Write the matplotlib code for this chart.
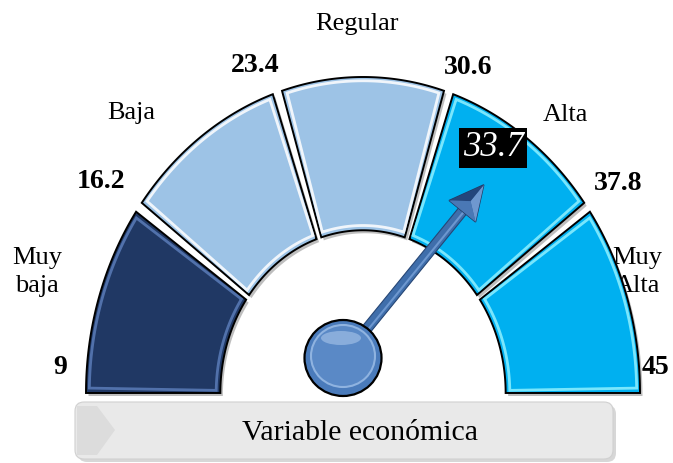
import numpy as np
import matplotlib
matplotlib.use("Agg")
import matplotlib.pyplot as plt
from matplotlib.patches import Polygon, Ellipse, FancyBboxPatch

# ---- data ----
bounds = [9, 16.2, 23.4, 30.6, 37.8, 45]
categories = ["Muy\nbaja", "Baja", "Regular", "Alta", "Muy\nAlta"]
bound_labels = ["9", "16.2", "23.4", "30.6", "37.8", "45"]
value = 33.7
value_label = "33.7"
title = "Variable económica"

# ---- style ----
seg_colors = ["#203864", "#9dc3e6", "#9dc3e6", "#00b0f0", "#00b0f0"]
bevel_colors = ["#5a7cb8", "#ffffff", "#ffffff", "#8ff0ff", "#8ff0ff"]
FONT = "Liberation Serif"

W, H = 673, 463
fig = plt.figure(figsize=(W / 100, H / 100), dpi=100)
ax = fig.add_axes([0, 0, 1, 1])
ax.set_xlim(0, W)
ax.set_ylim(H, 0)
ax.axis("off")

cx, cy = 363, 393
rx, ry = 277, 316
inner = 0.515
vmin, vmax = bounds[0], bounds[-1]


def ang(v):
    return np.pi - (v - vmin) / (vmax - vmin) * np.pi


def pt(a, r):
    return cx + rx * r * np.cos(a), cy - ry * r * np.sin(a)


def wedge_pts(a1, a2, r_out, r_in, n=80):
    t = np.linspace(a1, a2, n)
    xo, yo = pt(t, r_out)
    xi, yi = pt(t[::-1], r_in)
    return np.column_stack([np.r_[xo, xi], np.r_[yo, yi]])


gap = np.deg2rad(1.0)
for i in range(len(bounds) - 1):
    a1 = ang(bounds[i])
    a2 = ang(bounds[i + 1])
    if i > 0:
        a1 -= gap
    if i < len(bounds) - 2:
        a2 += gap
    sh = wedge_pts(a1, a2, 1.0, inner)
    ax.add_patch(Polygon(sh + np.array([2.5, 3]), closed=True, facecolor="#8a8a8a",
                         edgecolor="none", alpha=0.55, zorder=2))
    ax.add_patch(Polygon(wedge_pts(a1, a2, 1.0, inner), closed=True,
                         facecolor=seg_colors[i], edgecolor="black", lw=1.4, zorder=3))
    d = np.deg2rad(0.9)
    ax.add_patch(Polygon(wedge_pts(a1 - d, a2 + d, 0.988, inner + 0.015), closed=True,
                         facecolor="none", edgecolor=bevel_colors[i], lw=2.0,
                         alpha=0.85, zorder=4))

# ---- labels ----
bound_pos = [(60, 367), (101, 182), (255, 65), (468, 68), (618, 184), (655, 368)]
for s, (x, y) in zip(bound_labels, bound_pos):
    ax.text(x, y, s, fontsize=20, fontweight="bold", family=FONT,
            ha="center", va="center", zorder=6)

cat_pos = [(37, 272), (131, 113), (357, 24), (565, 115), (637, 272)]
for s, (x, y) in zip(categories, cat_pos):
    ax.text(x, y, s, fontsize=19, family=FONT, ha="center", va="center",
            linespacing=1.3, zorder=1)

# ---- needle ----
pivot = (cx - 20, cy - 35)
av = ang(value)
tip = np.array(pt(av, 0.79))
p0 = np.array(pivot)
u = tip - p0
u = u / np.hypot(*u)
nvec = np.array([-u[1], u[0]])
head_len, head_w, shaft_w = 34, 17, 5
base = tip - u * head_len
shaft = np.array([p0 + nvec * shaft_w, base + u * 4 + nvec * shaft_w,
                  base + u * 4 - nvec * shaft_w, p0 - nvec * shaft_w])
ax.add_patch(Polygon(shaft, closed=True, facecolor="#3f6eab", edgecolor="#264675",
                     lw=0.8, zorder=7))
ax.plot([p0[0] + nvec[0] * 1.5, base[0] + nvec[0] * 1.5],
        [p0[1] + nvec[1] * 1.5, base[1] + nvec[1] * 1.5],
        color="#6d97cf", lw=1.5, zorder=7, solid_capstyle="butt")
lw_pt = base + nvec * head_w
rw_pt = base - nvec * head_w
ridge = base + u * 13
ax.add_patch(Polygon([tip, lw_pt, rw_pt], closed=True, facecolor="#3a659f",
                     edgecolor="#1f3b66", lw=1.0, zorder=8))
ax.add_patch(Polygon([tip, lw_pt, ridge], closed=True, facecolor="#6f98cf",
                     edgecolor="none", zorder=8))
ax.add_patch(Polygon([tip, ridge, rw_pt], closed=True, facecolor="#24467c",
                     edgecolor="none", zorder=8))
ax.add_patch(Polygon([lw_pt, ridge, rw_pt], closed=True, facecolor="#4a78b5",
                     edgecolor="none", zorder=8))

# pivot knob
ax.add_patch(Ellipse(pivot, 77, 76, facecolor="#4a7bbb", edgecolor="black", lw=1.6,
                     zorder=9))
ax.add_patch(Ellipse((pivot[0], pivot[1] - 2), 64, 62, facecolor="#5a89c6",
                     edgecolor="#8fb3e0", lw=1.5, zorder=9))
ax.add_patch(Ellipse((pivot[0] - 2, pivot[1] - 20), 40, 14, facecolor="#a9c6ea",
                     edgecolor="none", alpha=0.6, zorder=9))

# value label
ax.text(493, 148, value_label, fontsize=25, style="italic", family=FONT,
        color="white", ha="center", va="center", zorder=10,
        bbox=dict(boxstyle="square,pad=0.1", facecolor="black", edgecolor="none"))

# ---- bottom banner ----
ax.add_patch(FancyBboxPatch((78, 405), 538, 57, boxstyle="round,pad=0,rounding_size=9",
                            facecolor="#bdbdbd", edgecolor="none", alpha=0.6, zorder=10))
ax.add_patch(FancyBboxPatch((75, 402), 538, 57, boxstyle="round,pad=0,rounding_size=9",
                            facecolor="#e9e9e9", edgecolor="#d0d0d0", lw=0.8, zorder=11))
ax.add_patch(Polygon([(77, 406), (97, 406), (115, 430), (97, 455), (77, 455)], closed=True,
                     facecolor="#dcdcdc", edgecolor="none", zorder=11))
ax.text(360, 433, title, fontsize=21.5, family=FONT, ha="center", va="center", zorder=12)

fig.savefig("out.png", dpi=100)
